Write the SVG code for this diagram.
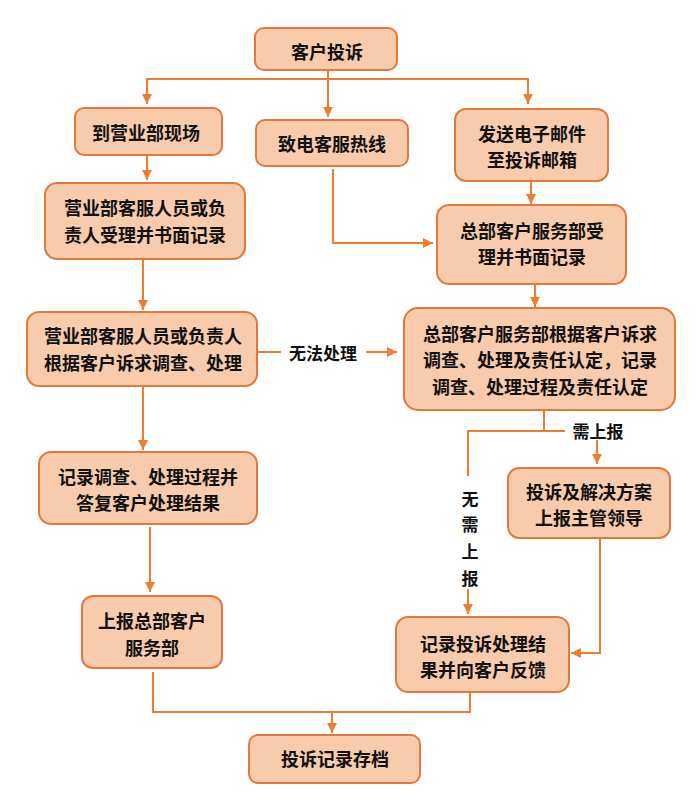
<svg xmlns="http://www.w3.org/2000/svg" width="698" height="806" viewBox="0 0 698 806">
<style>
.box{fill:#F8CBAD;stroke:#E2793A;stroke-width:2}
.ln{fill:none;stroke:#ED7D31;stroke-width:2}
text{font-family:"Noto Sans CJK SC","Noto Sans CJK JP",sans-serif;font-size:18px;font-weight:bold;fill:#111;text-anchor:middle;dominant-baseline:central}
.lbl{font-size:17px}
</style>
<defs>
<marker id="ah" viewBox="0 0 10 10" refX="10" refY="5" markerWidth="10" markerHeight="10" markerUnits="userSpaceOnUse" orient="auto">
<path d="M0,0 L10,5 L0,10 z" fill="#ED7D31"/>
</marker>
</defs>
<rect width="698" height="806" fill="#fff"/>
<g id="connectors">
<path class="ln" d="M328,69 V117" marker-end="url(#ah)"/>
<path class="ln" d="M147,104 V79 H528 V104" marker-end="url(#ah)"/>
<path class="ln" d="M147,79 V104" marker-end="url(#ah)"/>
<path class="ln" d="M147,155 V180" marker-end="url(#ah)"/>
<path class="ln" d="M333,169 V243 H433" marker-end="url(#ah)"/>
<path class="ln" d="M531,181 V204" marker-end="url(#ah)"/>
<path class="ln" d="M143,259 V310" marker-end="url(#ah)"/>
<path class="ln" d="M535,284 V307" marker-end="url(#ah)"/>
<path class="ln" d="M257,352 H281"/>
<path class="ln" d="M366,352 H397" marker-end="url(#ah)"/>
<path class="ln" d="M143,386 V450" marker-end="url(#ah)"/>
<path class="ln" d="M544,410 V431"/>
<path class="ln" d="M565,431 H468 V476"/>
<path class="ln" d="M468,589 V614" marker-end="url(#ah)"/>
<path class="ln" d="M597,440 V464" marker-end="url(#ah)"/>
<path class="ln" d="M600,538 V653 H571" marker-end="url(#ah)"/>
<path class="ln" d="M150,527 V592" marker-end="url(#ah)"/>
<path class="ln" d="M153,672 V712 H470 V692"/>
<path class="ln" d="M332,712 V733" marker-end="url(#ah)"/>
</g>
<g id="n1"><rect class="box" x="255" y="28" width="142" height="42" rx="9"/><text x="327" y="51">客户投诉</text></g>
<g id="n2"><rect class="box" x="75" y="108" width="147" height="47" rx="9"/><text x="146" y="132">到营业部现场</text></g>
<g id="n3"><rect class="box" x="256" y="120" width="152" height="46" rx="9"/><text x="332" y="143">致电客服热线</text></g>
<g id="n4"><rect class="box" x="455" y="109" width="153" height="72" rx="11"/><text x="532" y="133">发送电子邮件</text><text x="532" y="159">至投诉邮箱</text></g>
<g id="n5"><rect class="box" x="45" y="183" width="200" height="76" rx="12"/><text x="145" y="207">营业部客服人员或负</text><text x="145" y="234">责人受理并书面记录</text></g>
<g id="n6"><rect class="box" x="437" y="205" width="189" height="79" rx="12"/><text x="532" y="230">总部客户服务部受</text><text x="532" y="256">理并书面记录</text></g>
<g id="n7"><rect class="box" x="27" y="312" width="230" height="74" rx="12"/><text x="143" y="335">营业部客服人员或负责人</text><text x="143" y="362">根据客户诉求调查、处理</text></g>
<g id="n8"><rect class="box" x="404" y="308" width="271" height="102" rx="14"/><text x="540" y="333">总部客户服务部根据客户诉求</text><text x="540" y="359">调查、处理及责任认定，记录</text><text x="540" y="386">调查、处理过程及责任认定</text></g>
<g id="n9"><rect class="box" x="39" y="452" width="218" height="72" rx="12"/><text x="148" y="476">记录调查、处理过程并</text><text x="148" y="502">答复客户处理结果</text></g>
<g id="n10"><rect class="box" x="508" y="468" width="162" height="70" rx="11"/><text x="589" y="491">投诉及解决方案</text><text x="589" y="517">上报主管领导</text></g>
<g id="n11"><rect class="box" x="82" y="596" width="140" height="72" rx="11"/><text x="152" y="620">上报总部客户</text><text x="152" y="647">服务部</text></g>
<g id="n12"><rect class="box" x="396" y="617" width="173" height="75" rx="12"/><text x="483" y="643">记录投诉处理结</text><text x="483" y="669">果并向客户反馈</text></g>
<g id="n13"><rect class="box" x="249" y="735" width="171" height="48" rx="9"/><text x="335" y="758">投诉记录存档</text></g>
<g id="labels">
<text class="lbl" x="323" y="352">无法处理</text>
<text class="lbl" x="598" y="430">需上报</text>
<text class="lbl" x="470" y="498">无</text>
<text class="lbl" x="470" y="523">需</text>
<text class="lbl" x="470" y="550">上</text>
<text class="lbl" x="470" y="577">报</text>
</g>
</svg>
